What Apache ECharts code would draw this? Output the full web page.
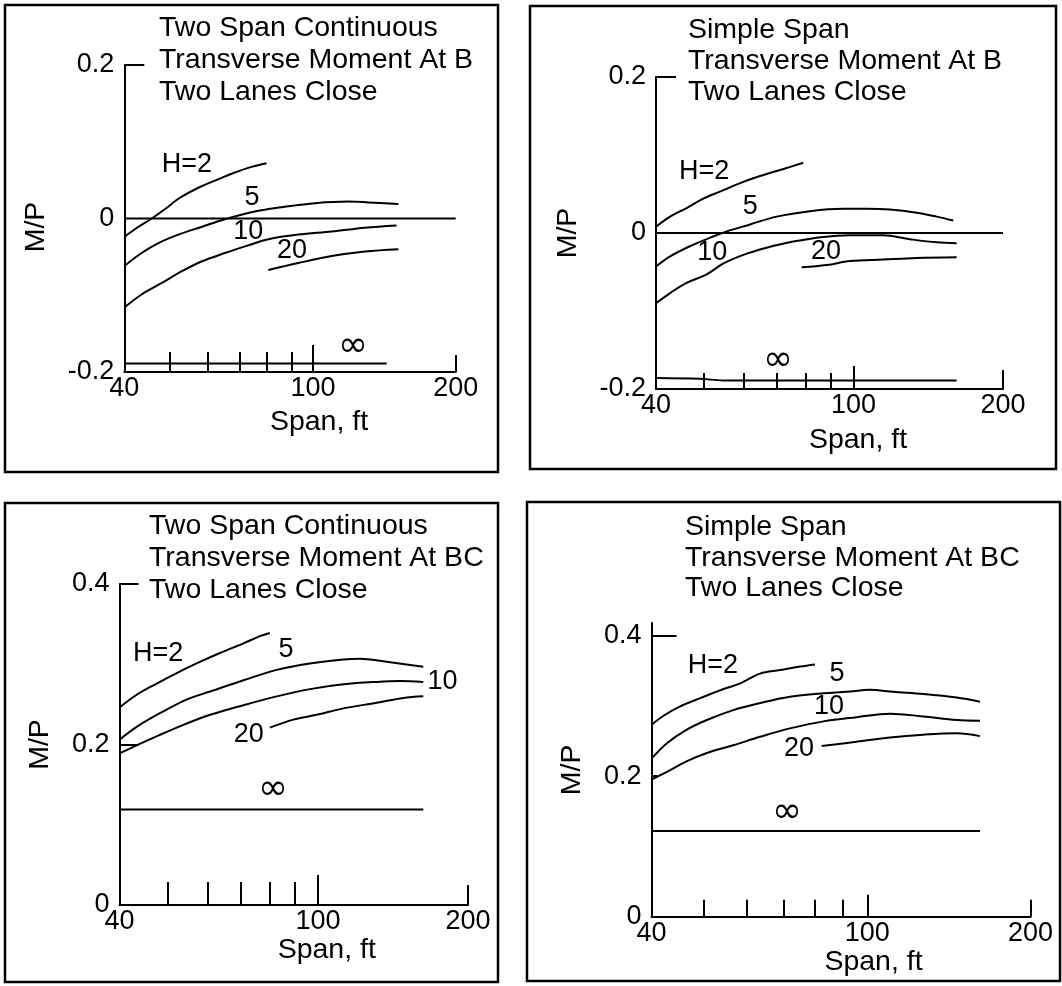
<!DOCTYPE html>
<html><head><meta charset="utf-8">
<script src="https://cdn.jsdelivr.net/npm/echarts@6/dist/echarts.min.js"></script>
<style>html,body{margin:0;padding:0;background:#fff}#c{width:1062px;height:986px}</style>
</head><body><div id="c"></div>
<script>
// ---------------- data ----------------
const spanMinorTicks = [50, 60, 70, 80, 90];
const spanMajorTick = [100];
const spanEndTick = [200];
const spanLabels = [40, 100, 200];
const mpLabelsB = [-0.2, 0, 0.2];
const mpLabelsBC = [0, 0.2, 0.4];
const curveNames = ['H=2', '5', '10', '20', '∞'];

// Panel A: Two Span Continuous, Transverse Moment At B
const aH2Span = [40, 42.1, 45.7, 48.7, 52.4, 58.2, 64.2, 68.5, 73, 79.8];
const aH2MP = [-0.024, -0.014, 0, 0.012, 0.027, 0.042, 0.053, 0.06, 0.066, 0.072];
const aH5Span = [40, 43.5, 47.2, 52, 58.2, 65.2, 76.7, 88.7, 101, 118.7, 130.8, 151.4];
const aH5MP = [-0.062, -0.045, -0.032, -0.021, -0.011, -0.001, 0.01, 0.016, 0.02, 0.022, 0.021, 0.019];
const aH10Span = [40, 43.5, 48, 52.8, 58.2, 65.2, 73, 80.5, 93.1, 109.5, 128.7, 150.1];
const aH10MP = [-0.116, -0.099, -0.084, -0.069, -0.056, -0.045, -0.035, -0.027, -0.021, -0.017, -0.012, -0.009];
const aH20Span = [80.5, 93.1, 109.5, 128.7, 151.4];
const aH20MP = [-0.067, -0.058, -0.049, -0.043, -0.040];
const aInfSpan = [40, 143];
const aInfMP = [-0.189, -0.189];
const aZeroSpan = [40, 200];
const aZeroMP = [0, 0];
const aLabelSpan = [54.2, 74.4, 73.0, 90.3, 121.4];
const aLabelMP = [0.0704, 0.0274, -0.0169, -0.0417, -0.1668];

// Panel B: Simple Span, Transverse Moment At B
const bH2Span = [40, 42.7, 46.1, 49.8, 53.8, 59.1, 64.8, 72.2, 79.2];
const bH2MP = [0.008, 0.021, 0.032, 0.044, 0.053, 0.064, 0.073, 0.082, 0.09];
const bH5Span = [40, 42.7, 46.8, 51.4, 55.5, 61.9, 70, 81.7, 95.4, 106.3, 118.4, 134, 147, 158.8];
const bH5MP = [-0.043, -0.03, -0.017, -0.006, 0.002, 0.011, 0.021, 0.028, 0.031, 0.031, 0.03, 0.026, 0.021, 0.016];
const bH10Span = [40, 42.7, 46.1, 50.6, 54.7, 60, 66.8, 75.6, 86.9, 98.4, 104.6, 114.8, 129.9, 147, 161.3];
const bH10MP = [-0.09, -0.077, -0.064, -0.053, -0.039, -0.028, -0.019, -0.011, -0.005, -0.003, -0.003, -0.003, -0.008, -0.012, -0.013];
const bH20Span = [78.6, 88.3, 98.4, 114.8, 134, 161.3];
const bH20MP = [-0.044, -0.041, -0.036, -0.034, -0.032, -0.031];
const bInfSpan = [40, 49, 54.7, 161.3];
const bInfMP = [-0.186, -0.187, -0.189, -0.189];
const bZeroSpan = [40, 200];
const bZeroMP = [0, 0];
const bLabelSpan = [50.0, 61.9, 51.9, 88.0, 70.4];
const bLabelMP = [0.0786, 0.0344, -0.0253, -0.024, -0.1637];

// Panel C: Two Span Continuous, Transverse Moment At BC
const cH2Span = [40, 43.3, 47.5, 52.1, 57.1, 63.6, 70.9, 76.5, 80.1];
const cH2MP = [0.246, 0.262, 0.276, 0.289, 0.301, 0.314, 0.326, 0.335, 0.339];
const cH5Span = [40, 43.3, 48.2, 54.5, 60.8, 70.9, 82.7, 96.4, 112.5, 121.5, 137.4, 162.7];
const cH5MP = [0.206, 0.222, 0.239, 0.256, 0.266, 0.28, 0.293, 0.301, 0.306, 0.307, 0.303, 0.297];
const cH10Span = [40, 43.3, 48.2, 54.5, 60.8, 70.9, 82.7, 96.4, 112.5, 131.2, 146.1, 162.7];
const cH10MP = [0.189, 0.199, 0.212, 0.226, 0.237, 0.249, 0.26, 0.269, 0.275, 0.278, 0.279, 0.278];
const cH20Span = [80.1, 89.3, 99.4, 112.5, 131.2, 148.4, 162.7];
const cH20MP = [0.221, 0.231, 0.237, 0.245, 0.252, 0.258, 0.26];
const cInfSpan = [40, 162.7];
const cInfMP = [0.119, 0.119];
const cLabelSpan = [47.8, 86.3, 177.8, 72.7, 81.3];
const cLabelMP = [0.3128, 0.3184, 0.2779, 0.2118, 0.1433];

// Panel D: Simple Span, Transverse Moment At BC
const dH2Span = [40, 42.1, 45.1, 49.2, 54.3, 58.3, 63.4, 69, 75.2, 80.1];
const dH2MP = [0.273, 0.286, 0.299, 0.311, 0.324, 0.332, 0.346, 0.351, 0.356, 0.359];
const dH5Span = [40, 42.7, 46.4, 50.6, 56.6, 63.4, 72, 83, 91.6, 101.2, 111.7, 126.9, 146.2, 161.4];
const dH5MP = [0.225, 0.247, 0.266, 0.28, 0.294, 0.304, 0.313, 0.318, 0.32, 0.323, 0.32, 0.317, 0.312, 0.306];
const dH10Span = [40, 42.7, 46.4, 50.6, 56.6, 63.4, 72, 83, 95.6, 110.1, 126.9, 146.2, 161.4];
const dH10MP = [0.195, 0.206, 0.221, 0.233, 0.244, 0.256, 0.268, 0.278, 0.284, 0.289, 0.285, 0.28, 0.279];
const dH20Span = [82.4, 95.6, 110.1, 126.9, 146.2, 161.4];
const dH20MP = [0.243, 0.249, 0.255, 0.259, 0.261, 0.257];
const dInfSpan = [40, 161.4];
const dInfMP = [0.122, 0.122];
const dLabelSpan = [51.9, 87.9, 85.0, 74.8, 71.1];
const dLabelMP = [0.3569, 0.3455, 0.2985, 0.2387, 0.1476];

// ---------------- layout / style ----------------
const FONT = "'Liberation Sans', Arial, Helvetica, sans-serif";
const FS = 27;      // tick labels, curve labels
const FS_T = 28.5;  // titles, axis names
const L = v => Math.log10(v);

const panels = [
  { title: 'Two Span Continuous\nTransverse Moment At B\nTwo Lanes Close', tl: { left: 159, top: 12, lh: 32 },
    grid: { left: 124.3, top: 65, width: 331.4, height: 307 }, ymin: -0.2, ymax: 0.2, yLabels: mpLabelsB,
    yTicks: [{ v: [0.2], len: 20 }], xTickLen: [20, 27, 17], xName: { gap: 36, shift: 58 }, yName: { gap: 74, shift: 17 },
    box: [5, 5, 493, 467],
    curves: [[aH2Span, aH2MP], [aH5Span, aH5MP], [aH10Span, aH10MP], [aH20Span, aH20MP], [aInfSpan, aInfMP], [aZeroSpan, aZeroMP]],
    labels: [aLabelSpan, aLabelMP] },
  { title: 'Simple Span\nTransverse Moment At B\nTwo Lanes Close', tl: { left: 688, top: 15, lh: 31 },
    grid: { left: 656, top: 77, width: 347, height: 312 }, ymin: -0.2, ymax: 0.2, yLabels: mpLabelsB,
    yTicks: [{ v: [0.2], len: 20 }], xTickLen: [16, 23, 19], xName: { gap: 37, shift: 57 }, yName: { gap: 73, shift: 0 },
    box: [530, 6, 526, 463],
    curves: [[bH2Span, bH2MP], [bH5Span, bH5MP], [bH10Span, bH10MP], [bH20Span, bH20MP], [bInfSpan, bInfMP], [bZeroSpan, bZeroMP]],
    labels: [bLabelSpan, bLabelMP] },
  { title: 'Two Span Continuous\nTransverse Moment At BC\nTwo Lanes Close', tl: { left: 149, top: 510, lh: 32 },
    grid: { left: 119.5, top: 584, width: 348.5, height: 321 }, ymin: 0, ymax: 0.4, yLabels: mpLabelsBC,
    yTicks: [{ v: [0.2, 0.4], len: 19 }], xTickLen: [23, 30, 20], xName: { gap: 28.5, shift: 66 }, yName: { gap: 65, shift: 0 },
    box: [5, 503, 493, 479],
    curves: [[cH2Span, cH2MP], [cH5Span, cH5MP], [cH10Span, cH10MP], [cH20Span, cH20MP], [cInfSpan, cInfMP]],
    labels: [cLabelSpan, cLabelMP] },
  { title: 'Simple Span\nTransverse Moment At BC\nTwo Lanes Close', tl: { left: 685, top: 512, lh: 30.5 },
    grid: { left: 651.5, top: 623, width: 379, height: 293.7 }, ymin: 0, ymax: 0.418, yLabels: mpLabelsBC,
    yTicks: [{ v: [0.4], len: 25 }, { v: [0.2], len: 6 }], xTickLen: [17, 22, 17], xName: { gap: 31, shift: 65 }, yName: { gap: 65, shift: 0 },
    box: [527, 502, 533, 479],
    curves: [[dH2Span, dH2MP], [dH5Span, dH5MP], [dH10Span, dH10MP], [dH20Span, dH20MP], [dInfSpan, dInfMP]],
    labels: [dLabelSpan, dLabelMP] }
];

const black = { color: '#000', width: 2 };
const option = { animation: false, backgroundColor: '#fff', title: [], grid: [], xAxis: [], yAxis: [], series: [], graphic: [] };

panels.forEach(p => {
  const g0 = option.grid.length;
  for (let k = 0; k < 3; k++) option.grid.push(Object.assign({ outerBoundsMode: 'none', containLabel: false, show: false }, p.grid));

  const xBase = (gi) => ({ gridIndex: gi, type: 'value', min: L(40), max: L(200), position: 'bottom', splitLine: { show: false } });
  option.xAxis.push(Object.assign(xBase(g0), {
    axisLine: { show: true, onZero: false, lineStyle: black },
    axisTick: { show: true, inside: true, length: p.xTickLen[0], customValues: spanMinorTicks.map(L), lineStyle: black },
    axisLabel: { show: true, customValues: spanLabels.map(L), formatter: v => String(Math.round(Math.pow(10, v))), margin: 3, fontSize: FS, color: '#000', fontFamily: FONT },
    name: 'Span, ft', nameLocation: 'middle', nameGap: p.xName.gap,
    nameTextStyle: { fontSize: FS_T, color: '#000', fontFamily: FONT, padding: [0, 0, 0, p.xName.shift] }
  }));
  option.xAxis.push(Object.assign(xBase(g0 + 1), {
    axisLine: { show: false, onZero: false },
    axisTick: { show: true, inside: true, length: p.xTickLen[1], customValues: spanMajorTick.map(L), lineStyle: black },
    axisLabel: { show: false }
  }));
  option.xAxis.push(Object.assign(xBase(g0 + 2), {
    axisLine: { show: false, onZero: false },
    axisTick: { show: true, inside: true, length: p.xTickLen[2], customValues: spanEndTick.map(L), lineStyle: black },
    axisLabel: { show: false }
  }));

  option.yAxis.push({ gridIndex: g0, type: 'value', min: p.ymin, max: p.ymax, splitLine: { show: false },
    axisLine: { show: true, onZero: false, lineStyle: black },
    axisTick: { show: true, inside: true, length: p.yTicks[0].len, customValues: p.yTicks[0].v, lineStyle: black },
    axisLabel: { show: true, customValues: p.yLabels, margin: 10, fontSize: FS, color: '#000', fontFamily: FONT },
    name: 'M/P', nameLocation: 'middle', nameGap: p.yName.gap,
    nameTextStyle: { fontSize: FS_T, color: '#000', fontFamily: FONT, padding: [0, p.yName.shift, 0, 0] }
  });
  const t2 = p.yTicks[1];
  option.yAxis.push({ gridIndex: g0 + 1, type: 'value', min: p.ymin, max: p.ymax, splitLine: { show: false },
    show: !!t2, axisLine: { show: false, onZero: false },
    axisTick: t2 ? { show: true, inside: true, length: t2.len, customValues: t2.v, lineStyle: black } : { show: false },
    axisLabel: { show: false } });
  option.yAxis.push({ gridIndex: g0 + 2, type: 'value', min: p.ymin, max: p.ymax, show: false, axisLine: { onZero: false }, splitLine: { show: false } });

  p.curves.forEach(([xs, ys]) => {
    option.series.push({ type: 'line', xAxisIndex: g0, yAxisIndex: g0, silent: true, showSymbol: false, symbol: 'none',
      smooth: 0.35, lineStyle: { color: '#000', width: 2 },
      data: xs.map((s, j) => [L(s), ys[j]]) });
  });
  const [ls, lm] = p.labels;
  const lbl = (j) => Object.assign({ show: true, formatter: curveNames[j], color: '#000', opacity: 1,
      textBorderWidth: 0, fontFamily: FONT, fontSize: FS, align: 'center', verticalAlign: 'middle', position: 'inside' },
    j === 4 ? { fontSize: 36, fontFamily: "'DejaVu Sans', sans-serif" } : {});
  option.series.push({ type: 'scatter', xAxisIndex: g0, yAxisIndex: g0, silent: true, symbolSize: 2, z: 5,
    itemStyle: { color: 'transparent', opacity: 1 },
    labelLayout: { hideOverlap: false },
    label: lbl(0),
    data: ls.map((s, j) => ({ value: [L(s), lm[j]], label: lbl(j) })) });

  option.title.push({ text: p.title, left: p.tl.left, top: p.tl.top, padding: 0,
    textStyle: { fontSize: FS_T, fontWeight: 'normal', color: '#000', fontFamily: FONT, lineHeight: p.tl.lh } });
  option.graphic.push({ type: 'rect', silent: true, shape: { x: p.box[0], y: p.box[1], width: p.box[2], height: p.box[3] },
    style: { fill: 'none', stroke: '#000', lineWidth: 2.5 } });
});

const chart = echarts.init(document.getElementById('c'), null, { renderer: 'canvas' });
chart.setOption(option);
</script>
</body></html>
